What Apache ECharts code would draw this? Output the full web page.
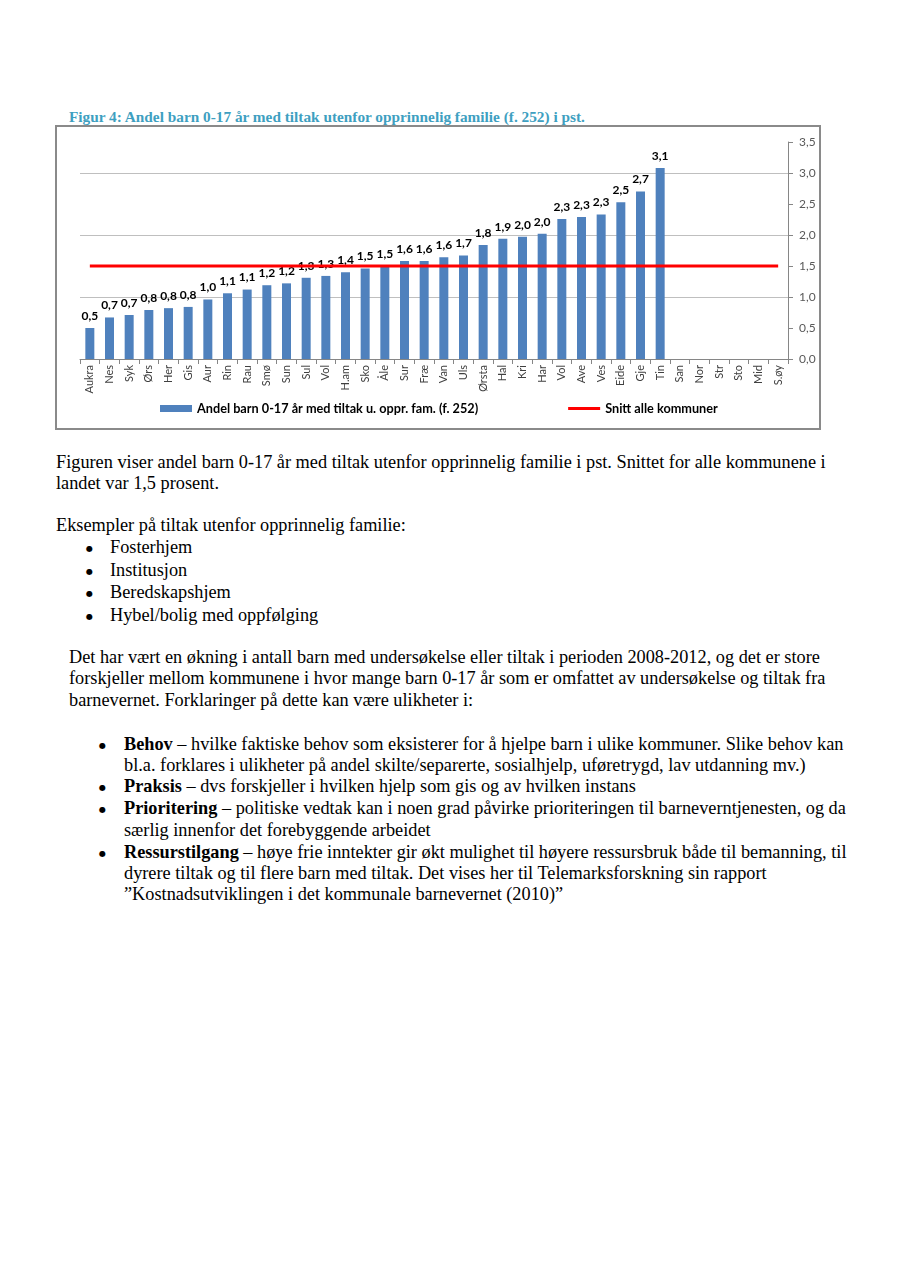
<!DOCTYPE html>
<html>
<head>
<meta charset="utf-8">
<script src="https://cdn.jsdelivr.net/npm/echarts@6/dist/echarts.min.js"></script>
<style>
  html, body { margin: 0; padding: 0; background: #fff; }
  body { width: 908px; height: 1286px; position: relative; overflow: hidden; }
  .t { position: absolute; white-space: nowrap; font-family: "Liberation Serif", "Times New Roman", serif; font-size: 18.3px; line-height: 18.3px; color: #000; }
  .b { position: absolute; white-space: nowrap; font-family: "DejaVu Sans", sans-serif; font-size: 8px; line-height: 8px; color: #000; }
  .title { position: absolute; left: 69px; top: 109px; white-space: nowrap; font-family: "Liberation Serif", serif; font-weight: bold; font-size: 15.3px; line-height: 15.3px; color: #3E9FC1; }
  #chart { position: absolute; left: 55px; top: 125px; width: 766px; height: 305px; }
  #frame { position: absolute; left: 55px; top: 125px; width: 766px; height: 305px; box-sizing: border-box; border: 2px solid #8a8a8a; pointer-events: none; }
</style>
</head>
<body>
<div class="title">Figur 4: Andel barn 0-17 år med tiltak utenfor opprinnelig familie (f. 252) i pst.</div>
<div id="chart"></div>
<div id="frame"></div>

<div class="t" style="left:56px;top:453px;">Figuren viser andel barn 0-17 år med tiltak utenfor opprinnelig familie i pst. Snittet for alle kommunene i</div>
<div class="t" style="left:56px;top:474px;">landet var 1,5 prosent.</div>
<div class="t" style="left:56px;top:516.4px;">Eksempler på tiltak utenfor opprinnelig familie:</div>
<div class="b" style="left:86px;top:545px;">●</div><div class="t" style="left:110px;top:538px;">Fosterhjem</div>
<div class="b" style="left:86px;top:567.7px;">●</div><div class="t" style="left:110px;top:560.7px;">Institusjon</div>
<div class="b" style="left:86px;top:590px;">●</div><div class="t" style="left:110px;top:583px;">Beredskapshjem</div>
<div class="b" style="left:86px;top:613.4px;">●</div><div class="t" style="left:110px;top:606.4px;">Hybel/bolig med oppfølging</div>

<div class="t" style="left:69px;top:648px;">Det har vært en økning i antall barn med undersøkelse eller tiltak i perioden 2008-2012, og det er store</div>
<div class="t" style="left:69px;top:669px;">forskjeller mellom kommunene i hvor mange barn 0-17 år som er omfattet av undersøkelse og tiltak fra</div>
<div class="t" style="left:69px;top:691.4px;">barnevernet. Forklaringer på dette kan være ulikheter i:</div>

<div class="b" style="left:99px;top:741.7px;">●</div><div class="t" style="left:124px;top:734.7px;"><b>Behov</b> – hvilke faktiske behov som eksisterer for å hjelpe barn i ulike kommuner. Slike behov kan</div>
<div class="t" style="left:124px;top:755.7px;">bl.a. forklares i ulikheter på andel skilte/separerte, sosialhjelp, uføretrygd, lav utdanning mv.)</div>
<div class="b" style="left:99px;top:784.4px;">●</div><div class="t" style="left:124px;top:777.4px;"><b>Praksis</b> – dvs forskjeller i hvilken hjelp som gis og av hvilken instans</div>
<div class="b" style="left:99px;top:806px;">●</div><div class="t" style="left:124px;top:799px;"><b>Prioritering</b> – politiske vedtak kan i noen grad påvirke prioriteringen til barneverntjenesten, og da</div>
<div class="t" style="left:124px;top:820.7px;">særlig innenfor det forebyggende arbeidet</div>
<div class="b" style="left:99px;top:850px;">●</div><div class="t" style="left:124px;top:843px;"><b>Ressurstilgang</b> – høye frie inntekter gir økt mulighet til høyere ressursbruk både til bemanning, til</div>
<div class="t" style="left:124px;top:864px;">dyrere tiltak og til flere barn med tiltak. Det vises her til Telemarksforskning sin rapport</div>
<div class="t" style="left:124px;top:884.7px;">”Kostnadsutviklingen i det kommunale barnevernet (2010)”</div>

<script>
const categories = ['Aukra','Nes','Syk','Ørs','Her','Gis','Aur','Rin','Rau','Smø','Sun','Sul','Vol','H.am','Sko','Åle','Sur','Fræ','Van','Uls','Ørsta','Hal','Kri','Har','Vol','Ave','Ves','Eide','Gje','Tin','San','Nor','Str','Sto','Mid','S.øy'];
const barName = 'Andel barn 0-17 år med tiltak u. oppr. fam. (f. 252)';
const barValues = [0.50,0.67,0.71,0.79,0.82,0.84,0.96,1.06,1.12,1.19,1.22,1.31,1.34,1.40,1.46,1.50,1.58,1.58,1.64,1.67,1.84,1.94,1.97,2.02,2.26,2.29,2.33,2.53,2.70,3.08];
const avgName = 'Snitt alle kommuner';
const avgValues = [1.5,1.5,1.5,1.5,1.5,1.5,1.5,1.5,1.5,1.5,1.5,1.5,1.5,1.5,1.5,1.5,1.5,1.5,1.5,1.5,1.5,1.5,1.5,1.5,1.5,1.5,1.5,1.5,1.5,1.5,1.5,1.5,1.5,1.5,1.5,1.5];
const yMin = 0, yMax = 3.5, yStep = 0.5;

const fmt = v => v.toFixed(1).replace('.', ',');
const chart = echarts.init(document.getElementById('chart'), null, { renderer: 'canvas' });
chart.setOption({
  animation: false,
  textStyle: { fontFamily: 'Lato' },
  grid: { left: 25, right: 33, top: 17, bottom: 71, containLabel: false },
  legend: {
    left: 100, top: 272,
    itemWidth: 32, itemHeight: 7, itemGap: 90,
    textStyle: { fontFamily: 'Lato', fontWeight: 'bold', fontSize: 12.7, color: '#000' },
    data: [
      { name: barName, icon: 'rect' },
      { name: avgName, icon: 'path://M0,0H32V3H0Z' }
    ]
  },
  xAxis: {
    type: 'category',
    data: categories,
    boundaryGap: true,
    axisLine: { lineStyle: { color: '#868686', width: 1 } },
    axisTick: { show: true, length: 5, lineStyle: { color: '#868686' }, interval: 0 },
    axisLabel: { rotate: 90, interval: 0, fontSize: 11, color: '#404040', margin: 6, fontFamily: 'Lato' }
  },
  yAxis: {
    type: 'value', position: 'right',
    min: yMin, max: yMax, interval: yStep,
    axisLine: { show: true, lineStyle: { color: '#868686' } },
    axisTick: { show: true, length: 5, lineStyle: { color: '#868686' } },
    axisLabel: { formatter: v => fmt(v), fontSize: 12, color: '#595959', margin: 11, fontFamily: 'Lato' },
    splitLine: { show: true, lineStyle: { color: ['#BFBFBF', 'rgba(0,0,0,0)'], width: 1 } }
  },
  series: [
    {
      name: barName, type: 'bar', data: barValues, barWidth: 9,
      itemStyle: { color: '#4F81BD' },
      label: { show: true, position: 'top', distance: 6, formatter: p => fmt(p.value), fontFamily: 'Lato', fontWeight: 'bold', fontSize: 12, color: '#000' },
      labelLayout: { moveOverlap: 'shiftY' }
    },
    {
      name: avgName, type: 'line', data: avgValues, symbol: 'none', z: 5,
      lineStyle: { color: '#FF0000', width: 3 }, itemStyle: { color: '#FF0000' }
    }
  ]
});
</script>
</body>
</html>
